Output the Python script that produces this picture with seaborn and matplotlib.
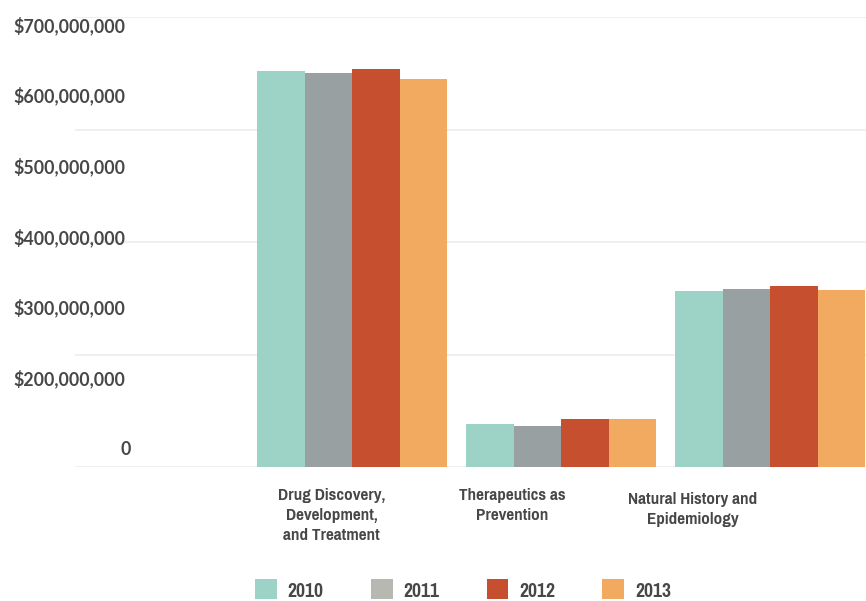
import matplotlib
matplotlib.use("Agg")
import matplotlib.pyplot as plt
from matplotlib import font_manager as fm
from matplotlib.patches import Patch
import seaborn as sns
import pandas as pd

# ---- data ----
categories = ["Drug Discovery,\nDevelopment,\nand Treatment",
              "Therapeutics as\nPrevention",
              "Natural History and\nEpidemiology"]
years = ["2010", "2011", "2012", "2013"]
values_2010 = [616e6, 67e6, 274e6]
values_2011 = [614e6, 65e6, 278e6]
values_2012 = [619.5e6, 75e6, 281.5e6]
values_2013 = [603.5e6, 75e6, 276e6]
ytick_labels = ["0", "$200,000,000", "$300,000,000", "$400,000,000",
                "$500,000,000", "$600,000,000", "$700,000,000"]
bar_colors = ["#9dd2c6", "#98a0a1", "#c64f30", "#f2aa60"]
legend_colors = ["#9dd2c6", "#b8b8b3", "#c64f30", "#f2aa60"]

series = [values_2010, values_2011, values_2012, values_2013]
rows = []
for yr, vals in zip(years, series):
    for cat, v in zip(categories, vals):
        rows.append({"category": cat, "year": yr, "value": v})
df = pd.DataFrame(rows)

sns.set_style("white")
names = {f.name for f in fm.fontManager.ttflist}
num_font = "Lato" if "Lato" in names else "DejaVu Sans"
plt.rcParams["font.family"] = [num_font, "DejaVu Sans"]
text_color = "#474747"

# look for a narrow bold font file
narrow_path = None
for key in ("Narrow-Bold", "NarrowBold", "Condensed-Bold", "CondensedBold", "Cond-Bold"):
    for f in fm.fontManager.ttflist:
        if key.lower() in f.fname.replace(" ", "").lower() and "oblique" not in f.fname.lower() \
                and "italic" not in f.fname.lower():
            narrow_path = f.fname
            break
    if narrow_path:
        break
if narrow_path:
    cat_fp = fm.FontProperties(fname=narrow_path, size=13.4)
    leg_fp = fm.FontProperties(fname=narrow_path, size=15.4)
    cat_ls = 1.42
else:
    cat_fp = fm.FontProperties(family=[num_font, "DejaVu Sans"], weight="bold", size=11.0)
    leg_fp = fm.FontProperties(family=[num_font, "DejaVu Sans"], weight="bold", size=12.0)
    cat_ls = 1.3

W, H = 866, 601
fig = plt.figure(figsize=(W / 100, H / 100), dpi=100)
ax_left, ax_right, ax_top, ax_bottom = 75, 866, 17.3, 467.3
ax = fig.add_axes([ax_left / W, 1 - ax_bottom / H, (ax_right - ax_left) / W,
                   (ax_bottom - ax_top) / H])

sns.barplot(data=df, x="category", y="value", hue="year", palette=bar_colors,
            width=0.909, saturation=1, ax=ax, legend=False, linewidth=0,
            errorbar=None, zorder=3)

ax.set_ylim(0, 700e6)
ax.set_yticks([0, 175e6, 350e6, 525e6, 700e6])
ax.yaxis.grid(True, color="#ececec", linewidth=1.2, zorder=0)
ax.set_axisbelow(True)
ax.tick_params(axis="both", length=0, labelleft=False, labelbottom=False)
ax.set_xlim(-1.3268, 2.4579)
ax.set_xlabel("")
ax.set_ylabel("")
for s in ax.spines.values():
    s.set_visible(False)

# y labels axis
ax2 = ax.twinx()
ax2.yaxis.tick_left()
ax2.set_ylim(-0.2687, 6.0947)
ax2.set_yticks(range(len(ytick_labels)))
ax2.set_yticklabels(ytick_labels, fontsize=12.8, fontweight="bold",
                    color=text_color, family=[num_font, "DejaVu Sans"])
ax2.tick_params(axis="y", length=0, pad=-36.5)
ax2.get_yticklabels()[0].set_horizontalalignment("center")
for s in ax2.spines.values():
    s.set_visible(False)

# category labels axis
ax3 = ax.twiny()
ax3.xaxis.tick_bottom()
ax3.set_xlim(-1.4199, 2.9588)
ax3.set_xticks(range(len(categories)))
ax3.set_xticklabels(categories, color=text_color, fontproperties=cat_fp,
                    linespacing=cat_ls)
ax3.tick_params(axis="x", length=0, pad=15)
ax3.get_xticklabels()[2].set_y(-0.009)
for s in ax3.spines.values():
    s.set_visible(False)

handles = [Patch(facecolor=c, edgecolor="none", linewidth=0) for c in legend_colors]
fig.legend(handles, years, loc="center left",
           bbox_to_anchor=(255 / W, 1 - 590 / H), ncol=4, frameon=False,
           prop=leg_fp, labelcolor=text_color, handlelength=1.02, handleheight=1.02,
           handletextpad=0.51, columnspacing=2.2, borderpad=0, borderaxespad=0)

fig.savefig("out.png", dpi=100)
